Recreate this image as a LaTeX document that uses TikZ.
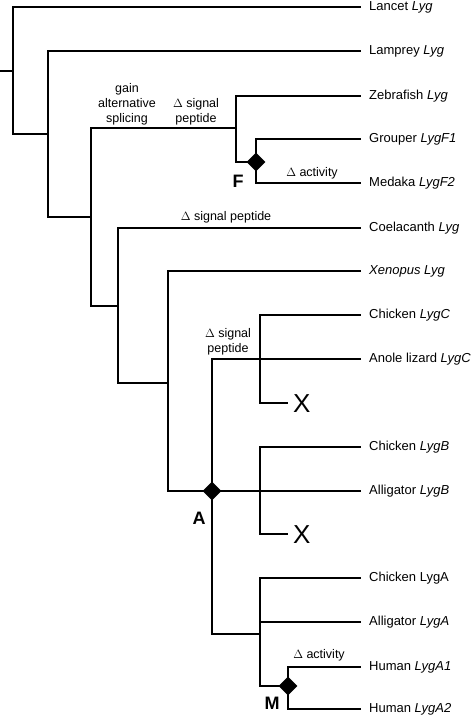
\documentclass[tikz,border=0pt]{standalone}
\usepackage{fontspec}
\setmainfont{Liberation Sans}
\usetikzlibrary{shapes.geometric}
\begin{document}
\begin{tikzpicture}[x=1pt,y=-1pt,
  branch/.style={line width=2.4pt,line join=miter,line cap=rect},
  leaf/.style={anchor=west,inner sep=0pt,font=\fontsize{13}{15}\selectfont},
  note/.style={inner sep=0pt,align=center,font=\fontsize{12.5}{15}\selectfont},
  big/.style={inner sep=0pt,font=\fontsize{18}{20}\selectfont\bfseries},
  lossmark/.style={inner sep=0pt,anchor=west,font=\fontsize{26}{28}\selectfont},
  dup/.style={diamond,fill=black,inner sep=0pt,minimum size=19pt}]
\useasboundingbox (0,0) rectangle (472,717);
% internal node coordinates
\coordinate (stub) at (0,71);
\coordinate (n1) at (13,71);
\coordinate (n1t) at (13,7);
\coordinate (n1b) at (13,134);
\coordinate (n2t) at (48,51);
\coordinate (n2b) at (48,217);
\coordinate (n3t) at (91,128);
\coordinate (n3b) at (91,306);
\coordinate (fz) at (236,96);
\coordinate (fb) at (236,162);
\coordinate (Ft) at (256,139);
\coordinate (Fb) at (256,183);
\coordinate (n4t) at (118,228);
\coordinate (n4b) at (118,383);
\coordinate (n5t) at (168,271);
\coordinate (n5b) at (168,491);
\coordinate (At) at (212,359);
\coordinate (Ab) at (212,634);
\coordinate (Ct) at (260,315);
\coordinate (Cb) at (260,403);
\coordinate (Bt) at (260,447);
\coordinate (Bb) at (260,534);
\coordinate (Lt) at (260,578);
\coordinate (Lb) at (260,686);
\coordinate (Lm) at (260,622);
\coordinate (Mt) at (288,667);
\coordinate (Mb) at (288,709);
\coordinate (xe1) at (287,403);
\coordinate (xe2) at (287,534);
% leaf ends
\coordinate (e1) at (360,7);
\coordinate (e2) at (360,51);
\coordinate (e3) at (360,96);
\coordinate (e4) at (360,139);
\coordinate (e5) at (360,183);
\coordinate (e6) at (360,228);
\coordinate (e7) at (360,271);
\coordinate (e8) at (360,315);
\coordinate (e9) at (360,359);
\coordinate (e10) at (360,447);
\coordinate (e11) at (360,491);
\coordinate (e12) at (360,578);
\coordinate (e13) at (360,622);
\coordinate (e14) at (360,667);
\coordinate (e15) at (360,709);
% leaf labels
\node[leaf] (l1) at (369,7) {Lancet \textit{Lyg}};
\node[leaf] (l2) at (369,51) {Lamprey \textit{Lyg}};
\node[leaf] (l3) at (369,96) {Zebrafish \textit{Lyg}};
\node[leaf] (l4) at (369,139) {Grouper \textit{LygF1}};
\node[leaf] (l5) at (369,183) {Medaka \textit{LygF2}};
\node[leaf] (l6) at (369,228) {Coelacanth \textit{Lyg}};
\node[leaf] (l7) at (369,271) {\textit{Xenopus Lyg}};
\node[leaf] (l8) at (369,315) {Chicken \textit{LygC}};
\node[leaf] (l9) at (369,359) {Anole lizard \textit{LygC}};
\node[leaf] (l10) at (369,447) {Chicken \textit{LygB}};
\node[leaf] (l11) at (369,491) {Alligator \textit{LygB}};
\node[leaf] (l12) at (369,578) {Chicken LygA};
\node[leaf] (l13) at (369,622) {Alligator \textit{LygA}};
\node[leaf] (l14) at (369,667) {Human \textit{LygA1}};
\node[leaf] (l15) at (369,709) {Human \textit{LygA2}};
% loss marks
\node[lossmark] (x1) at (293,404) {X};
\node[lossmark] (x2) at (293,535) {X};
% branches
\draw[branch] (stub) -- (n1);
\draw[branch] (e1) -- (n1t) -- (n1b) -- (n1b -| n2t);
\draw[branch] (e2) -- (n2t) -- (n2b) -- (n2b -| n3t);
\draw[branch] (fz |- n3t) -- (n3t) -- (n3b) -- (n3b -| n4t);
\draw[branch] (e3) -- (fz) -- (fb) -- (fb -| Ft);
\draw[branch] (e4) -- (Ft) -- (Fb) -- (e5);
\draw[branch] (e6) -- (n4t) -- (n4b) -- (n4b -| n5t);
\draw[branch] (e7) -- (n5t) -- (n5b) -- (e11);
\draw[branch] (e9) -- (At) -- (Ab) -- (Ab -| Lt);
\draw[branch] (e8) -- (Ct) -- (Cb) -- (xe1);
\draw[branch] (e10) -- (Bt) -- (Bb) -- (xe2);
\draw[branch] (e12) -- (Lt) -- (Lb) -- (Lb -| Mt);
\draw[branch] (Lm) -- (e13);
\draw[branch] (e14) -- (Mt) -- (Mb) -- (e15);
% duplication diamonds
\node[dup] (dF) at (256,162) {};
\node[dup] (dA) at (212,491) {};
\node[dup] (dM) at (288,686) {};
\node[big] (labF) at (238,181) {F};
\node[big] (labA) at (199,518) {A};
\node[big] (labM) at (272,703) {M};
% annotations
\node[note] (t1) at (127,104) {gain\\alternative\\splicing};
\node[note] (t2) at (196,111.5) {$\Delta$ signal\\peptide};
\node[note] (t3) at (312,173) {$\Delta$ activity};
\node[note] (t4) at (226,217) {$\Delta$ signal peptide};
\node[note] (t5) at (228,341.5) {$\Delta$ signal\\peptide};
\node[note] (t6) at (319,655) {$\Delta$ activity};
\end{tikzpicture}
\end{document}
